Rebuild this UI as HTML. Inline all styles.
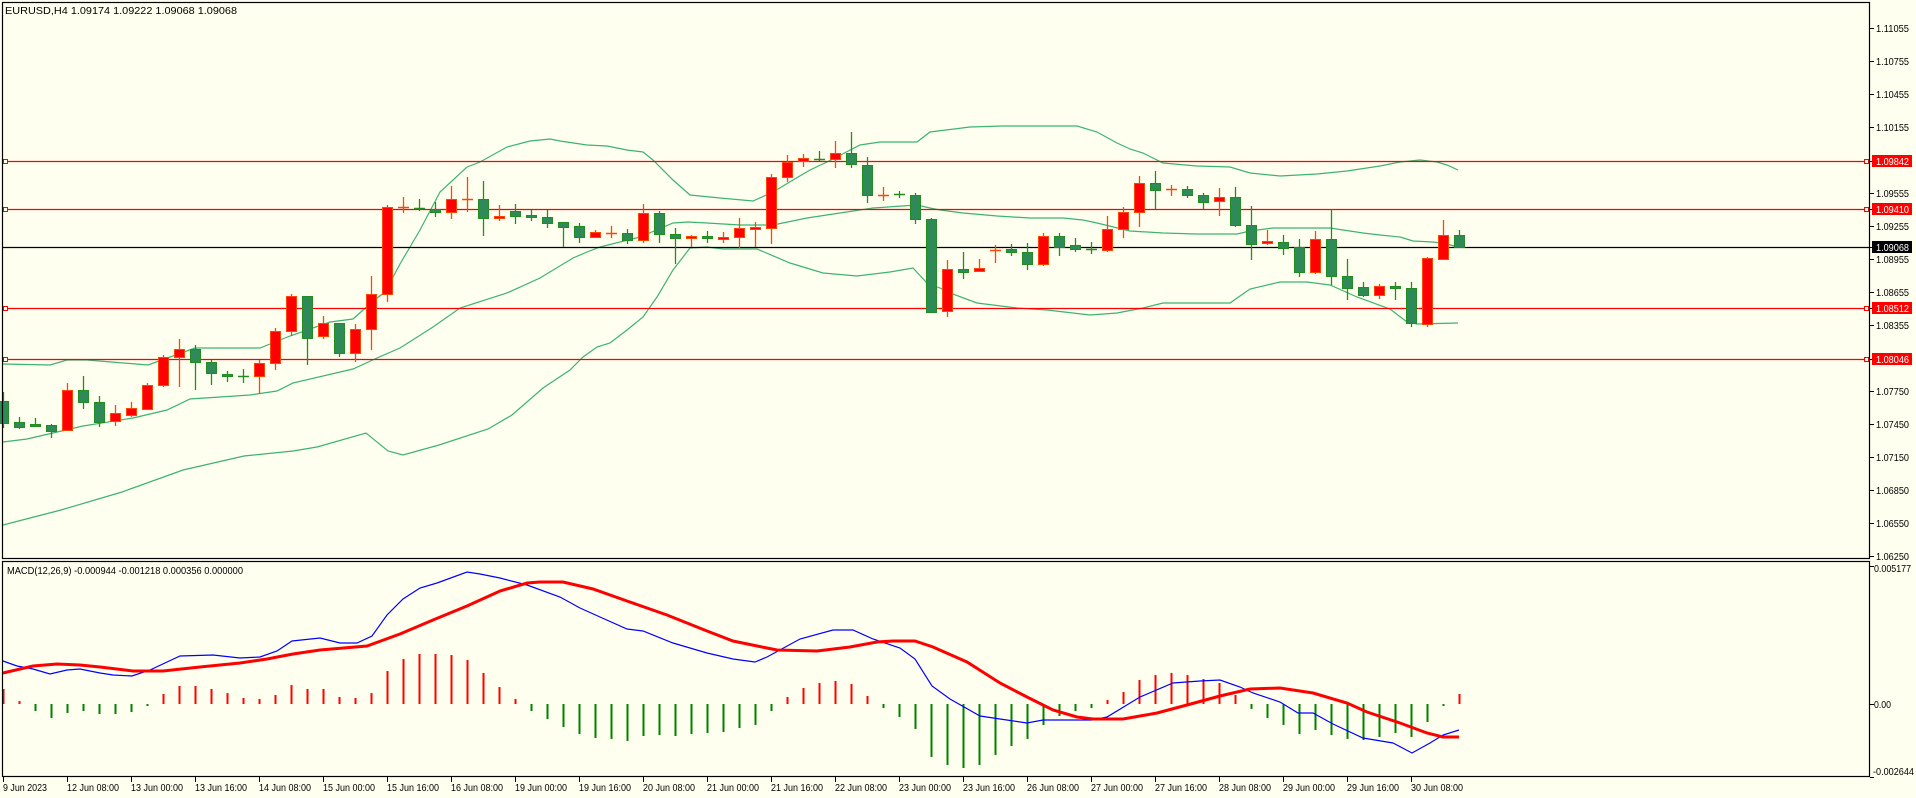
<!DOCTYPE html>
<html><head><meta charset="utf-8"><style>
html,body{margin:0;padding:0;background:#fffff0;}
svg{display:block;}
text{font-family:"Liberation Sans",sans-serif;font-size:10.5px;fill:#000;}
</style></head><body>
<svg id="s" width="1916" height="798" viewBox="0 0 1916 798" xmlns="http://www.w3.org/2000/svg">
<rect x="0" y="0" width="1916" height="798" fill="#fffff0"/>
<g id="bands" fill="none" stroke="#3cb371" stroke-width="1.2"></g>
<g id="hl"></g>
<g id="candles"></g>
<g id="macd"></g>
<rect x="2.5" y="2.5" width="1867" height="556" fill="none" stroke="#000" stroke-width="1.2"/>
<rect x="2.5" y="561.5" width="1867" height="215" fill="none" stroke="#000" stroke-width="1.2"/>
<g id="ticks" stroke="#000"></g>
<text x="5" y="14" textLength="232" lengthAdjust="spacingAndGlyphs">EURUSD,H4  1.09174 1.09222 1.09068 1.09068</text>
<text x="7" y="574" textLength="236" lengthAdjust="spacingAndGlyphs">MACD(12,26,9) -0.000944 -0.001218 0.000356 0.000000</text>
<g id="plabels"></g>
<g id="tlabels"></g>
</svg>
<script>
var NS="http://www.w3.org/2000/svg";
function el(p,t,a){var e=document.createElementNS(NS,t);for(var k in a)e.setAttribute(k,a[k]);p.appendChild(e);return e;}
function tx(p,x,y,s,w,col){var e=el(p,'text',{x:x,y:y,textLength:w,lengthAdjust:'spacingAndGlyphs'});if(col)e.setAttribute('style','fill:'+col);e.textContent=s;return e;}
var P=document.getElementById('plabels');
[['1.11055',28],['1.10755',61],['1.10455',94],['1.10155',127],['1.09555',193],['1.09255',226],['1.08955',259],['1.08655',292],['1.08355',325],['1.07750',391],['1.07450',424],['1.07150',457],['1.06850',490],['1.06550',523],['1.06250',556]].forEach(function(a){tx(P,1876,a[1]+4,a[0],33);});
[['1.09842',161,'#ff0000'],['1.09410',209,'#ff0000'],['1.09068',247,'#000'],['1.08512',308,'#ff0000'],['1.08046',359,'#ff0000']].forEach(function(a){
el(P,'rect',{x:1872,y:a[1]-6,width:40,height:12,fill:a[2]});tx(P,1876,a[1]+4,a[0],33,'#fff');});
tx(P,1874,572,'0.005177',37);tx(P,1874,708,'0.00',17);tx(P,1873,775,'-0.002644',41);
var TL=document.getElementById('tlabels');
var labs=['9 Jun 2023','12 Jun 08:00','13 Jun 00:00','13 Jun 16:00','14 Jun 08:00','15 Jun 00:00','15 Jun 16:00','16 Jun 08:00','19 Jun 00:00','19 Jun 16:00','20 Jun 08:00','21 Jun 00:00','21 Jun 16:00','22 Jun 08:00','23 Jun 00:00','23 Jun 16:00','26 Jun 08:00','27 Jun 00:00','27 Jun 16:00','28 Jun 08:00','29 Jun 00:00','29 Jun 16:00','30 Jun 08:00'];
labs.forEach(function(s,k){tx(TL,3+64*k,791,s,k==0?44:52);});
var S=document.getElementById('s');
var C=[[401,423,392,428,0],[422,427,417,429,0],[424,426,418,427,0],[425,431,424,438,0],[390,430,383,431,1],[390,402,376,409,0],[402,422,396,427,0],[413,421,405,426,1],[408,415,402,417,1],[385,409,383,410,1],
[357,385,355,387,1],[349,357,339,387,1],[349,362,345,390,0],[362,373,360,385,0],[374,376,371,382,0],[376,377,369,383,0],[363,376,360,394,1],[331,363,328,370,1],[296,331,294,336,1],[296,338,296,365,0],
[323,336,316,339,1],[323,353,323,357,0],[329,353,324,362,1],[294,329,276,350,1],[207,294,205,302,1],[207,208,197,213,1],[208,209,199,211,0],[209,212,202,217,0],[199,212,186,219,1],[199,200,177,212,1],
[199,218,181,236,0],[216,218,205,221,1],[211,216,204,224,0],[215,217,210,221,0],[217,223,210,228,0],[222,227,222,247,0],[226,237,223,243,0],[232,237,230,238,1],[233,234,226,238,1],[233,240,229,244,0],
[213,240,204,243,1],[213,234,211,243,0],[234,238,228,264,0],[236,238,235,247,1],[236,238,231,243,0],[237,239,232,243,1],[228,237,218,248,1],[227,229,222,247,1],[177,228,174,244,1],[162,177,155,182,1],
[158,161,154,167,1],[159,160,151,161,0],[153,159,141,168,1],[153,164,132,168,0],[165,195,157,203,0],[195,196,187,201,1],[194,195,191,198,0],[195,219,193,224,0],[219,312,218,313,0],[269,311,260,317,1],
[269,272,252,279,0],[268,271,259,272,1],[250,251,245,263,1],[249,252,244,256,0],[252,264,243,270,0],[236,264,233,266,1],[236,247,233,256,0],[245,249,238,252,0],[249,250,242,254,0],[229,250,216,252,1],
[212,229,207,238,1],[183,212,176,227,1],[183,190,171,209,0],[189,190,185,196,1],[189,195,186,198,0],[195,202,193,209,0],[197,201,188,216,1],[197,225,187,227,0],[225,244,206,260,0],[241,243,230,245,1],
[242,248,235,255,0],[247,272,239,277,0],[239,272,231,274,1],[239,276,209,285,0],[276,288,259,300,0],[287,295,282,297,0],[286,295,284,299,1],[286,288,282,300,0],[288,323,282,327,0],[258,324,257,327,1],
[235,259,220,260,1],[235,247,230,247,0]];
var G=document.getElementById('candles');
C.forEach(function(c,i){var x=3+16*i;var up=c[4];var st=up?'#ff4500':'#228b22';var fl=up?'#ff0000':'#2e8b57';
el(G,'line',{x1:x+0.5,x2:x+0.5,y1:c[2],y2:c[3],stroke:st,'stroke-width':1.3});
var h=c[1]-c[0];
if(h<=1){el(G,'line',{x1:x-5,x2:x+6,y1:c[0]+0.5,y2:c[0]+0.5,stroke:st,'stroke-width':1.5});}
else el(G,'rect',{x:x-4.5,y:c[0]+0.5,width:10,height:h,fill:fl,stroke:st,'stroke-width':1});
});
var B=document.getElementById('bands');
function pl(pts,col,w,par){el(par||B,'polyline',{points:pts.map(function(p){return p.join(',')}).join(' '),fill:'none',stroke:col||'#3cb371','stroke-width':w||1.2});}
pl([[3,364],[50,365],[67,360],[87,360],[148,365],[195,348],[260,348],[290,336],[330,322],[353,319],[372,302],[385,292],[400,264],[420,230],[440,192],[467,167],[480,162],[507,147],[530,141],[550,139],[560,141],[587,145],[607,146],[627,150],[643,152],[653,160],[673,180],[690,195],[720,198],[753,201],[773,192],[793,180],[810,170],[827,162],[860,145],[880,142],[917,142],[930,132],[970,127],[1003,126],[1077,126],[1097,132],[1117,143],[1130,149],[1143,153],[1163,163],[1197,166],[1230,167],[1250,173],[1280,176],[1317,174],[1347,171],[1380,166],[1400,162],[1420,160],[1437,162],[1447,165],[1458,170]]);
pl([[3,442],[27,439],[83,426],[133,418],[167,410],[190,399],[250,395],[277,391],[293,383],[353,369],[377,358],[400,348],[433,327],[460,308],[507,293],[540,278],[573,258],[587,252],[600,247],[640,237],[673,223],[688,222],[707,223],[740,225],[773,225],[807,218],[840,213],[873,208],[917,205],[930,208],[940,210],[963,213],[997,216],[1030,218],[1063,218],[1083,220],[1097,223],[1130,231],[1163,233],[1197,234],[1237,234],[1250,231],[1273,228],[1330,228],[1363,233],[1380,235],[1400,237],[1413,241],[1433,242],[1447,244],[1458,247]]);
pl([[3,525],[61,510],[122,492],[183,470],[244,456],[293,451],[317,447],[366,433],[388,451],[403,455],[439,445],[488,429],[512,415],[543,388],[570,370],[583,357],[597,347],[610,343],[627,330],[643,317],[657,297],[673,270],[690,248],[707,247],[723,249],[757,249],[790,263],[823,273],[857,276],[890,272],[913,268],[927,283],[940,288],[950,293],[977,303],[1017,308],[1047,310],[1090,315],[1117,313],[1143,308],[1163,303],[1230,303],[1250,289],[1280,282],[1307,282],[1330,285],[1357,297],[1390,309],[1407,322],[1417,324],[1458,323]]);
var H=document.getElementById('hl');
[161,209,308,359].forEach(function(y){el(H,'line',{x1:3,x2:1869,y1:y+0.5,y2:y+0.5,stroke:'#ff0000','stroke-width':1.2});
el(H,'rect',{x:3.5,y:y-1.5,width:4,height:4,fill:'#fffff0',stroke:'#ff0000','stroke-width':1});
el(H,'rect',{x:1864.5,y:y-1.5,width:4,height:4,fill:'#fffff0',stroke:'#ff0000','stroke-width':1});});
el(H,'line',{x1:3,x2:1869,y1:247.5,y2:247.5,stroke:'#000','stroke-width':1.3});
var M=document.getElementById('macd');
var Hs=[689,701,711,718,713,711,714,714,712,705,694,686,686,689,693,698,699,695,685,689,689,697,698,693,671,659,654,654,655,660,673,687,699,711,719,727,734,738,739,741,736,735,736,734,733,732,728,725,711,697,688,683,681,684,696,708,717,729,757,765,768,765,755,746,739,725,716,711,708,700,692,680,675,673,675,679,683,695,709,718,725,734,730,735,739,740,737,733,737,722,706,694];
Hs.forEach(function(y,i){var x=3+16*i;var col=y<704?'#ff0000':'#008000';var t=Math.min(y,704),b=Math.max(y,704);if(b-t<2){b=t+2;}
el(M,'rect',{x:x-0.5,y:t,width:2,height:b-t,fill:col});});
pl([[3,661],[17,666],[33,669],[50,674],[67,670],[80,669],[100,673],[113,675],[132,676],[150,670],[180,656],[213,655],[240,658],[260,657],[277,651],[292,641],[320,638],[340,643],[357,643],[372,636],[387,615],[403,599],[420,588],[437,583],[467,572],[480,574],[500,578],[527,585],[560,597],[580,608],[600,617],[627,629],[643,631],[673,643],[707,653],[733,659],[755,662],[767,657],[800,639],[833,630],[853,630],[873,639],[900,648],[915,659],[932,686],[950,699],[980,716],[1000,719],[1027,723],[1043,720],[1092,720],[1107,717],[1140,697],[1173,683],[1200,681],[1220,680],[1240,687],[1253,693],[1280,702],[1298,713],[1313,713],[1333,724],[1363,738],[1393,743],[1412,753],[1430,743],[1443,735],[1459,730]],'#0000ff',1.2,M);
pl([[3,673],[33,666],[57,664],[80,665],[100,667],[133,671],[163,671],[200,667],[240,663],[267,659],[293,654],[320,650],[367,646],[400,634],[433,620],[467,606],[500,591],[527,583],[540,582],[563,582],[593,589],[627,601],[667,615],[707,631],[733,641],[767,648],[777,650],[817,651],[850,647],[877,642],[893,641],[915,641],[933,647],[967,662],[1000,683],[1027,697],[1053,710],[1077,717],[1093,719],[1123,719],[1157,713],[1187,705],[1220,696],[1250,689],[1280,688],[1313,693],[1347,703],[1367,712],[1400,723],[1427,733],[1443,737],[1459,737]],'#ff0000',3,M);
var T=document.getElementById('ticks');
[28,61,94,127,161,193,209,226,247,259,292,308,325,359,391,424,457,490,523,556,566,704,777].forEach(function(y){el(T,'line',{x1:1870,x2:1874,y1:y+0.5,y2:y+0.5,'stroke-width':1});});
for(var k=0;k<23;k++){var x=3+64*k;el(T,'line',{x1:x+0.5,x2:x+0.5,y1:777,y2:782,'stroke-width':1});}
</script>
</body></html>
